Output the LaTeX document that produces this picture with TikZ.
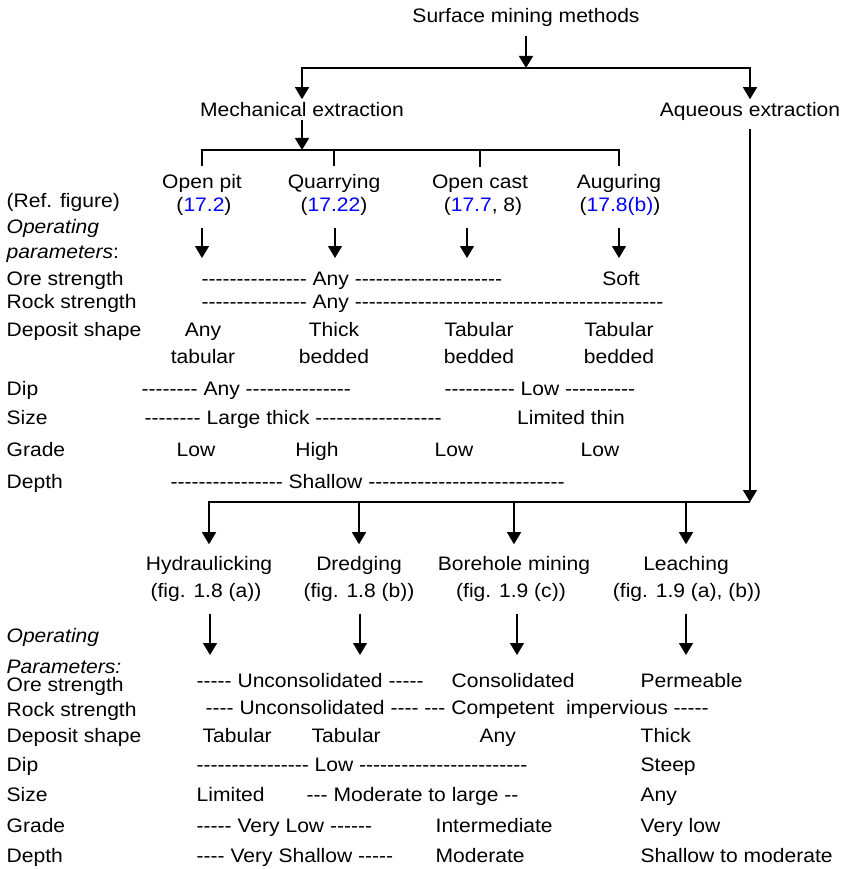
\documentclass[tikz,border=0pt]{standalone}
\usepackage{fontspec}
\setmainfont{Liberation Sans}[FakeStretch=1.08,Ligatures=TeXOff]
\usetikzlibrary{arrows.meta,positioning}

\begin{document}
\begin{tikzpicture}[x=1pt,y=-1pt,>={Triangle[length=12pt,width=14pt]},line width=1.3pt,
 every node/.style={font=\fontsize{19.5}{22}\selectfont,inner sep=0pt},
 nm/.style={anchor=base},
 lb/.style={anchor=base west},
 it/.style={anchor=base west,font=\fontsize{19.5}{22}\selectfont\itshape}]
\newcommand{\figref}[1]{\textcolor{blue}{#1}}
\useasboundingbox (0,0) rectangle (844,869);
% top of the tree
\node[nm] (surf) at (526,23) {Surface mining methods};
\coordinate (j1) at (526,68);
\node[nm] (mech) at (302,117) {Mechanical extraction};
\node[nm] (aque) at (750,117) {Aqueous extraction};
\draw[->,shorten <=8pt] (surf) -- (j1);
\draw[->,shorten >=3pt] (j1) -| (mech);
\draw[->,shorten >=3pt] (j1) -| (aque);
\coordinate (j2) at (302,150);
\draw[->,shorten <=2pt] (mech) -- (j2);
% mechanical methods
\node[nm] (opit) at (202,189) {Open pit};
\node[nm] (quar) at (334,189) {Quarrying};
\node[nm] (ocast) at (480,189) {Open cast};
\node[nm] (aug) at (619,189) {Auguring};
\foreach \m in {opit,quar,ocast,aug} \draw[shorten >=8pt] (j2) -| (\m);
\node[lb] (reffig) at (6,207) {(Ref. figure)};
\node[nm] (opit-r) at (204,211) {(\figref{17.2})};
\node[nm] (quar-r) at (334,211) {(\figref{17.22})};
\node[nm] (ocast-r) at (483,211) {(\figref{17.7}, 8)};
\node[nm] (aug-r) at (620,211) {(\figref{17.8(b)})};
\coordinate (opit-p) at (202,258); \coordinate (quar-p) at (335,258);
\coordinate (ocast-p) at (467,258); \coordinate (aug-p) at (619,258);
\foreach \m in {opit,quar,ocast,aug} \draw[->] (\m-p |- \m-r.south) ++(0,12) -- (\m-p);
% operating parameters, mechanical
\node[it] (op1) at (6,233) {Operating};
\node[lb] (op2) at (6,258) {\textit{parameters}:};
\foreach \k/\y/\t in {ore/285/Ore strength,rock/308/Rock strength,dep/336/Deposit shape,dip/395/Dip,size/424/Size,grade/456/Grade,depth/488/Depth}
 \node[lb] (u-\k) at (6,\y) {\t};
\node[lb] (u-ore-v) at (201,285) {--------------- Any ---------------------};
\node[nm] (u-ore-s) at (621,285) {Soft};
\node[lb] (u-rock-v) at (201,308) {--------------- Any --------------------------------------------};
\foreach \k/\x/\a/\b in {opit/203/Any/tabular,quar/334/Thick/bedded,ocast/479/Tabular/bedded,aug/619/Tabular/bedded}
 {\node[nm] (\k-d1) at (\x,336) {\a}; \node[nm] (\k-d2) at (\x,363) {\b};}
\node[lb] (u-dip-a) at (141,395) {-------- Any ---------------};
\node[lb] (u-dip-b) at (444,395) {---------- Low ----------};
\node[lb] (u-size-a) at (144,424) {-------- Large thick ------------------};
\node[nm] (u-size-b) at (571,424) {Limited thin};
\foreach \k/\x/\t in {opit/196/Low,quar/317/High,ocast/454/Low,aug/600/Low}
 \node[nm] (\k-g) at (\x,456) {\t};
\node[lb] (u-depth-v) at (170,488) {---------------- Shallow ----------------------------};
% aqueous methods
\coordinate (j3) at (750,502);
\draw[->,shorten <=7pt] (aque) -- (j3);
\node[nm] (hyd) at (209,570) {Hydraulicking};
\node[nm] (dred) at (359,570) {Dredging};
\node[nm] (bore) at (514,570) {Borehole mining};
\node[nm] (leach) at (686,570) {Leaching};
\foreach \m in {hyd,dred,bore,leach} \draw[->,shorten >=11pt] (j3) -| (\m);
\node[nm] (hyd-f) at (206,597) {(fig. 1.8 (a))};
\node[nm] (dred-f) at (359,597) {(fig. 1.8 (b))};
\node[nm] (bore-f) at (511,597) {(fig. 1.9 (c))};
\node[nm] (leach-f) at (687,597) {(fig. 1.9 (a), (b))};
\coordinate (hyd-p) at (210,655); \coordinate (dred-p) at (360,655);
\coordinate (bore-p) at (517,655); \coordinate (leach-p) at (686,655);
\foreach \m in {hyd,dred,bore,leach} \draw[->] (\m-p |- \m-f.south) ++(0,12) -- (\m-p);
% operating parameters, aqueous
\node[it] (op3) at (6,642) {Operating};
\node[it] (op4) at (6,673) {Parameters:};
\foreach \k/\y/\t in {ore/691/Ore strength,rock/716/Rock strength,dep/742/Deposit shape,dip/771/Dip,size/801/Size,grade/832/Grade,depth/862/Depth}
 \node[lb] (l-\k) at (6,\y) {\t};
\node[lb] (l-ore-a) at (196,687) {----- Unconsolidated -----};
\node[lb] (l-ore-b) at (451,687) {Consolidated};
\node[lb] (l-ore-c) at (640,687) {Permeable};
\node[lb] (l-rock-v) at (205,714) {---- Unconsolidated ---- --- Competent~ impervious -----};
\foreach \k/\x/\t in {hyd/202/Tabular,dred/311/Tabular,bore/479/Any,leach/640/Thick}
 \node[lb] (\k-d) at (\x,742) {\t};
\node[lb] (l-dip-a) at (196,771) {---------------- Low ------------------------};
\node[lb] (l-dip-b) at (640,771) {Steep};
\node[lb] (l-size-a) at (196,801) {Limited};
\node[lb] (l-size-b) at (306,801) {--- Moderate to large --};
\node[lb] (l-size-c) at (640,801) {Any};
\node[lb] (l-grade-a) at (196,832) {----- Very Low ------};
\node[lb] (l-grade-b) at (435,832) {Intermediate};
\node[lb] (l-grade-c) at (640,832) {Very low};
\node[lb] (l-depth-a) at (196,862) {---- Very Shallow -----};
\node[lb] (l-depth-b) at (435,862) {Moderate};
\node[lb] (l-depth-c) at (640,862) {Shallow to moderate};
\end{tikzpicture}
\end{document}
